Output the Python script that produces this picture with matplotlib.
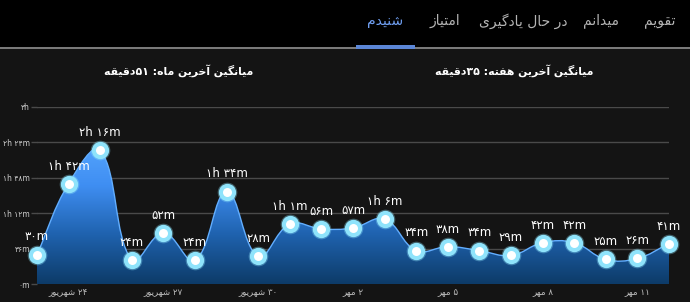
import numpy as np
import matplotlib
matplotlib.use("Agg")
import matplotlib.pyplot as plt
from matplotlib.path import Path
from matplotlib.patches import PathPatch, Rectangle
from matplotlib.colors import LinearSegmentedColormap

# ---------------- data ----------------
minutes = [30, 102, 136, 24, 52, 24, 94, 28, 61, 56, 57, 66, 34, 38, 34, 29, 42, 42, 25, 26, 41]
tick_idx = [1, 4, 7, 10, 13, 16, 19]
tick_dates = ["۲۴ شهریور", "۲۷ شهریور", "۳۰ شهریور", "۲ مهر", "۵ مهر", "۸ مهر", "۱۱ مهر"]
y_ticks = [0, 36, 72, 108, 144, 180]
tabs = ["تقویم", "میدانم", "در حال یادگیری", "امتیاز", "شنیدم"]
active_tab = "شنیدم"
title_week = "میانگین آخرین هفته: ۳۵دقیقه"
title_month = "میانگین آخرین ماه: ۵۱دقیقه"

# ---------------- simple Persian shaping ----------------
FORMS = {
    '\u0627': ('\uFE8D', '\uFE8E', None, None),
    '\u0622': ('\uFE81', '\uFE82', None, None),
    '\u0628': ('\uFE8F', '\uFE90', '\uFE91', '\uFE92'),
    '\u067E': ('\uFB56', '\uFB57', '\uFB58', '\uFB59'),
    '\u062A': ('\uFE95', '\uFE96', '\uFE97', '\uFE98'),
    '\u062B': ('\uFE99', '\uFE9A', '\uFE9B', '\uFE9C'),
    '\u062C': ('\uFE9D', '\uFE9E', '\uFE9F', '\uFEA0'),
    '\u0686': ('\uFB7A', '\uFB7B', '\uFB7C', '\uFB7D'),
    '\u062D': ('\uFEA1', '\uFEA2', '\uFEA3', '\uFEA4'),
    '\u062E': ('\uFEA5', '\uFEA6', '\uFEA7', '\uFEA8'),
    '\u062F': ('\uFEA9', '\uFEAA', None, None),
    '\u0630': ('\uFEAB', '\uFEAC', None, None),
    '\u0631': ('\uFEAD', '\uFEAE', None, None),
    '\u0632': ('\uFEAF', '\uFEB0', None, None),
    '\u0698': ('\uFB8A', '\uFB8B', None, None),
    '\u0633': ('\uFEB1', '\uFEB2', '\uFEB3', '\uFEB4'),
    '\u0634': ('\uFEB5', '\uFEB6', '\uFEB7', '\uFEB8'),
    '\u0635': ('\uFEB9', '\uFEBA', '\uFEBB', '\uFEBC'),
    '\u0636': ('\uFEBD', '\uFEBE', '\uFEBF', '\uFEC0'),
    '\u0637': ('\uFEC1', '\uFEC2', '\uFEC3', '\uFEC4'),
    '\u0638': ('\uFEC5', '\uFEC6', '\uFEC7', '\uFEC8'),
    '\u0639': ('\uFEC9', '\uFECA', '\uFECB', '\uFECC'),
    '\u063A': ('\uFECD', '\uFECE', '\uFECF', '\uFED0'),
    '\u0641': ('\uFED1', '\uFED2', '\uFED3', '\uFED4'),
    '\u0642': ('\uFED5', '\uFED6', '\uFED7', '\uFED8'),
    '\u06A9': ('\uFB8E', '\uFB8F', '\uFB90', '\uFB91'),
    '\u06AF': ('\uFB92', '\uFB93', '\uFB94', '\uFB95'),
    '\u0644': ('\uFEDD', '\uFEDE', '\uFEDF', '\uFEE0'),
    '\u0645': ('\uFEE1', '\uFEE2', '\uFEE3', '\uFEE4'),
    '\u0646': ('\uFEE5', '\uFEE6', '\uFEE7', '\uFEE8'),
    '\u0647': ('\uFEE9', '\uFEEA', '\uFEEB', '\uFEEC'),
    '\u0648': ('\uFEED', '\uFEEE', None, None),
    '\u06CC': ('\uFBFC', '\uFBFD', '\uFBFE', '\uFBFF'),
}
DIGITS = set("0123456789۰۱۲۳۴۵۶۷۸۹")


def shape(s):
    if not any(c in FORMS for c in s):
        return s
    out = []
    for i, c in enumerate(s):
        if c not in FORMS:
            out.append(c)
            continue
        iso, fin, ini, med = FORMS[c]
        prev = s[i - 1] if i > 0 else None
        nxt = s[i + 1] if i + 1 < len(s) else None
        jp = prev in FORMS and FORMS[prev][2] is not None
        jn = nxt in FORMS and ini is not None
        if jp and jn:
            out.append(med)
        elif jp:
            out.append(fin)
        elif jn:
            out.append(ini)
        else:
            out.append(iso)
    vis = out[::-1]
    res, i = [], 0
    while i < len(vis):
        if vis[i] in DIGITS:
            j = i
            while j < len(vis) and vis[j] in DIGITS:
                j += 1
            res.extend(vis[i:j][::-1])
            i = j
        else:
            res.append(vis[i])
            i += 1
    return "".join(res)


FA = str.maketrans("0123456789", "۰۱۲۳۴۵۶۷۸۹")


def fmt(v):
    h, m = divmod(int(v), 60)
    if h and m:
        s = f"{h}h {m}m"
    elif h:
        s = f"{h}h"
    else:
        s = f"{m}m"
    return s.translate(FA)


plt.rcParams['font.family'] = ['DejaVu Sans']

W, H = 690, 302
fig = plt.figure(figsize=(W / 100, H / 100), dpi=100, facecolor='#141414')

# tab bar
fig.patches.append(Rectangle((0, 1 - 47 / H), 1, 47 / H, transform=fig.transFigure,
                             facecolor='#000000', edgecolor='none', zorder=0))
fig.patches.append(Rectangle((0, 1 - 48.5 / H), 1, 1.5 / H, transform=fig.transFigure,
                             facecolor='#7a7a7a', edgecolor='none', zorder=1))
fig.patches.append(Rectangle((356 / W, 1 - 48.5 / H), 59 / W, 3 / H, transform=fig.transFigure,
                             facecolor='#5b86d6', edgecolor='none', zorder=2))
tab_x = [660, 601, 523, 445, 385]
for t, x in zip(tabs, tab_x):
    col = '#6f9ef0' if t == active_tab else '#b4b4b4'
    fig.text(x / W, 1 - 21 / H, shape(t), color=col, fontsize=10, ha='center', va='center')

fig.text(514 / W, 1 - 71 / H, shape(title_week), color='white', fontsize=7.8,
         fontweight='bold', ha='center', va='center')
fig.text(179 / W, 1 - 71 / H, shape(title_month), color='white', fontsize=7.8,
         fontweight='bold', ha='center', va='center')

ax = fig.add_axes([37 / W, 18 / H, 632 / W, 177 / H])
ax.set_facecolor('none')
x = np.arange(len(minutes))
y = np.array(minutes, dtype=float)
ax.set_xlim(0, len(minutes) - 1)
ax.set_ylim(0, 180)
for sp in ax.spines.values():
    sp.set_visible(False)

ax.set_yticks(y_ticks)
ax.set_yticklabels([fmt(v) for v in y_ticks])
ax.tick_params(axis='y', length=4, width=1, color='#4a4a4a', pad=1, labelsize=5.5, labelcolor='#cfcfcf')
ax.yaxis.grid(True, color='#4a4a4a', lw=1)
ax.set_axisbelow(True)
ax.set_xticks(tick_idx)
ax.set_xticklabels([shape(d) for d in tick_dates])
ax.tick_params(axis='x', length=0, pad=3, labelsize=6.3, labelcolor='#bdbdbd')

# Chart.js style spline (tension 0.4) computed in pixel space
fig.canvas.draw()
pts = ax.transData.transform(np.column_stack([x, y]))
t = 0.4
n = len(pts)
cp_prev = np.zeros_like(pts)
cp_next = np.zeros_like(pts)
for i in range(n):
    p0 = pts[i - 1] if i > 0 else pts[i]
    p1 = pts[i]
    p2 = pts[i + 1] if i < n - 1 else pts[i]
    d01 = np.hypot(*(p1 - p0))
    d12 = np.hypot(*(p2 - p1))
    tot = d01 + d12
    s01 = d01 / tot if tot else 0
    s12 = d12 / tot if tot else 0
    cp_prev[i] = p1 - t * s01 * (p2 - p0)
    cp_next[i] = p1 + t * s12 * (p2 - p0)
inv = ax.transData.inverted()
cpp = inv.transform(cp_prev)
cpn = inv.transform(cp_next)
cpp[:, 1] = np.clip(cpp[:, 1], 0, None)
cpn[:, 1] = np.clip(cpn[:, 1], 0, None)

verts = [(x[0], y[0])]
codes = [Path.MOVETO]
for i in range(n - 1):
    verts += [tuple(cpn[i]), tuple(cpp[i + 1]), (x[i + 1], y[i + 1])]
    codes += [Path.CURVE4] * 3
line_path = Path(verts, codes)
area_verts = verts + [(x[-1], 0), (x[0], 0), (x[0], y[0])]
area_codes = codes + [Path.LINETO, Path.LINETO, Path.CLOSEPOLY]
area_path = Path(area_verts, area_codes)

area_patch = PathPatch(area_path, facecolor='none', edgecolor='none')
ax.add_patch(area_patch)
cmap = LinearSegmentedColormap.from_list('g', ['#0d3b68', '#1f62ae', '#3f8ef2', '#58a8ff'])
grad = np.linspace(0, 1, 256).reshape(-1, 1)
im = ax.imshow(grad, cmap=cmap, origin='lower', extent=[0, n - 1, 0, 150],
               aspect='auto', zorder=2, interpolation='bilinear')
im.set_clip_path(area_patch)
ax.set_xlim(0, n - 1)
ax.set_ylim(0, 180)
ax.add_patch(PathPatch(line_path, facecolor='none', edgecolor='#62aeff', lw=1.0, zorder=3))

ax.scatter(x, y, s=200, color='#8fe3fb', alpha=0.35, zorder=4, linewidths=0, clip_on=False)
ax.scatter(x, y, s=155, color='#8fe3fb', zorder=5, linewidths=0, clip_on=False)
ax.scatter(x, y, s=42, color='white', zorder=6, linewidths=0, clip_on=False)

for xi, yi in zip(x, y):
    ax.annotate(fmt(yi), (xi, yi), xytext=(0, 8), textcoords='offset points',
                ha='center', va='bottom', color='white', fontsize=8.5, zorder=7,
                annotation_clip=False)

fig.savefig('out.png', dpi=100, facecolor=fig.get_facecolor())
